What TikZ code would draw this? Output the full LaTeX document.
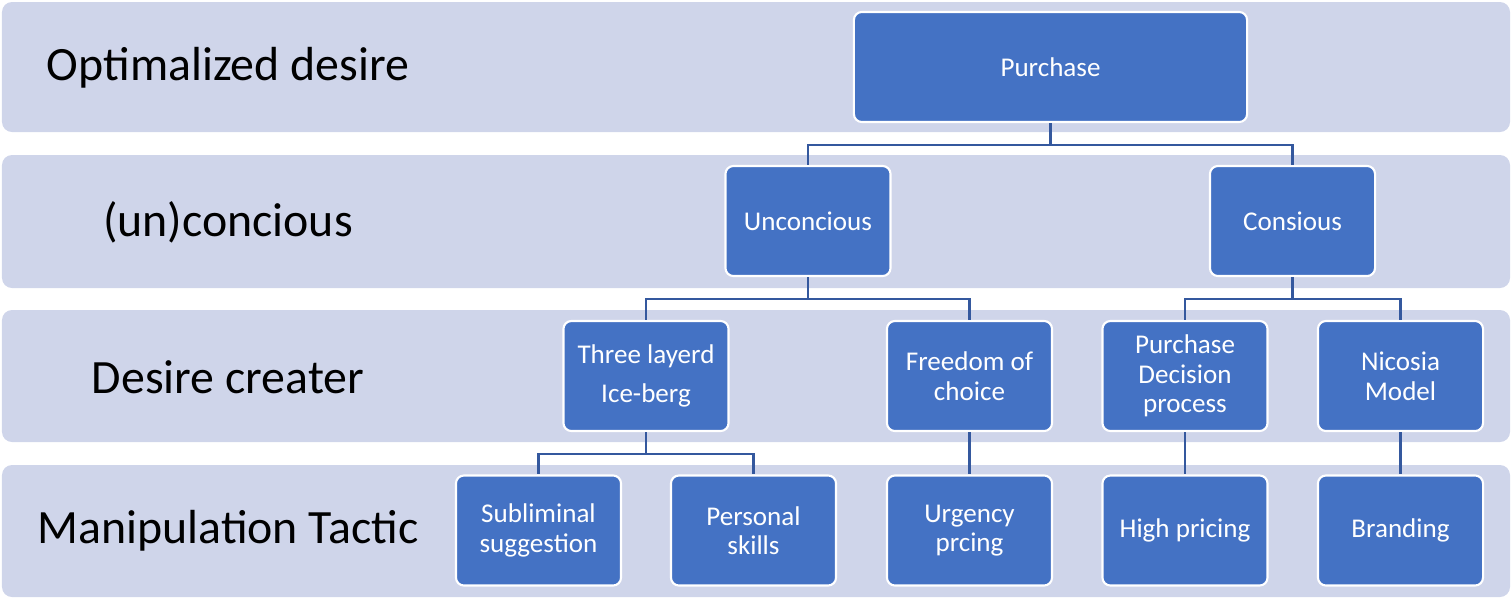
\documentclass[tikz,border=0pt]{standalone}
\usepackage{fontspec}
\setmainfont{Carlito}
\usepackage{tikz}
\usetikzlibrary{positioning}
\usepackage{xcolor}
\definecolor{bandcol}{HTML}{CFD5EA}
\definecolor{boxcol}{HTML}{4472C4}
\definecolor{linkcol}{HTML}{34589E}
\tikzset{%
	band/.style={
		fill=bandcol,
		draw=none,
		rounded corners=0.1cm
	},
	level label/.style={
		text=black,
		anchor=center,
		font=\fontsize{13.6}{16}\selectfont
	},
	tree box/.style={
		rectangle,
		rounded corners=0.08cm,
		fill=boxcol,
		draw=white,
		line width=0.6pt,
		minimum width=1.65cm,
		minimum height=1.1cm,
		text=white,
		align=center,
		font=\fontsize{7.7}{8.4}\selectfont
	},
	link/.style={
		draw=linkcol,
		line width=0.6pt
	},
}

\begin{document}
\begin{tikzpicture}[x=0.01cm,y=-0.01cm]
	\useasboundingbox (0,0) rectangle (1511,599);
	
	% Draw the background bands
	\draw[band] (2,2) rectangle (1510,132);
	\draw[band] (2,155) rectangle (1510,288);
	\draw[band] (2,310) rectangle (1510,442);
	\draw[band] (2,465) rectangle (1510,597);
	
	% Level names on the left
	\node[level label] (lvlone) at (228,68) {Optimalized desire};
	\node[level label] (lvltwo) at (228,222) {(un)concious};
	\node[level label] (lvlthree) at (228,377) {Desire creater};
	\node[level label] (lvlfour) at (228,531) {Manipulation Tactic};
	
	% Top of the tree
	\node[tree box, minimum width=3.93cm] (purchase) at (1050.5,67) {Purchase};
	
	% Unconscious and conscious
	\node[tree box] (uncon) at (808,221) {Unconcious};
	\node[tree box] (consc) at (1292.5,221) {Consious};
	
	% Desire creaters
	\node[tree box] (iceberg) at (646,376) {Three layerd\\[0.1cm]Ice-berg};
	\node[tree box] (freedom) at (969.5,376) {Freedom of\\choice};
	\node[tree box] (pdp) at (1185,376) {Purchase\\Decision\\process};
	\node[tree box] (nicosia) at (1400.5,376) {Nicosia\\Model};
	
	% Manipulation tactics
	\node[tree box] (sublim) at (538.5,530.5) {Subliminal\\suggestion};
	\node[tree box] (skills) at (753.5,530.5) {Personal\\skills};
	\node[tree box] (urgency) at (969.5,530.5) {Urgency\\prcing};
	\node[tree box] (highprice) at (1185,530.5) {High pricing};
	\node[tree box] (branding) at (1400.5,530.5) {Branding};
	
	% Draw the connectors
	\draw[link] (purchase.south) -- ++(0,22) -| (uncon.north);
	\draw[link] (purchase.south) -- ++(0,22) -| (consc.north);
	\draw[link] (uncon.south) -- ++(0,22) -| (iceberg.north);
	\draw[link] (uncon.south) -- ++(0,22) -| (freedom.north);
	\draw[link] (consc.south) -- ++(0,22) -| (pdp.north);
	\draw[link] (consc.south) -- ++(0,22) -| (nicosia.north);
	\draw[link] (iceberg.south) -- ++(0,22) -| (sublim.north);
	\draw[link] (iceberg.south) -- ++(0,22) -| (skills.north);
	\draw[link] (freedom.south) -- (urgency.north);
	\draw[link] (pdp.south) -- (highprice.north);
	\draw[link] (nicosia.south) -- (branding.north);
	
\end{tikzpicture}
\end{document}
